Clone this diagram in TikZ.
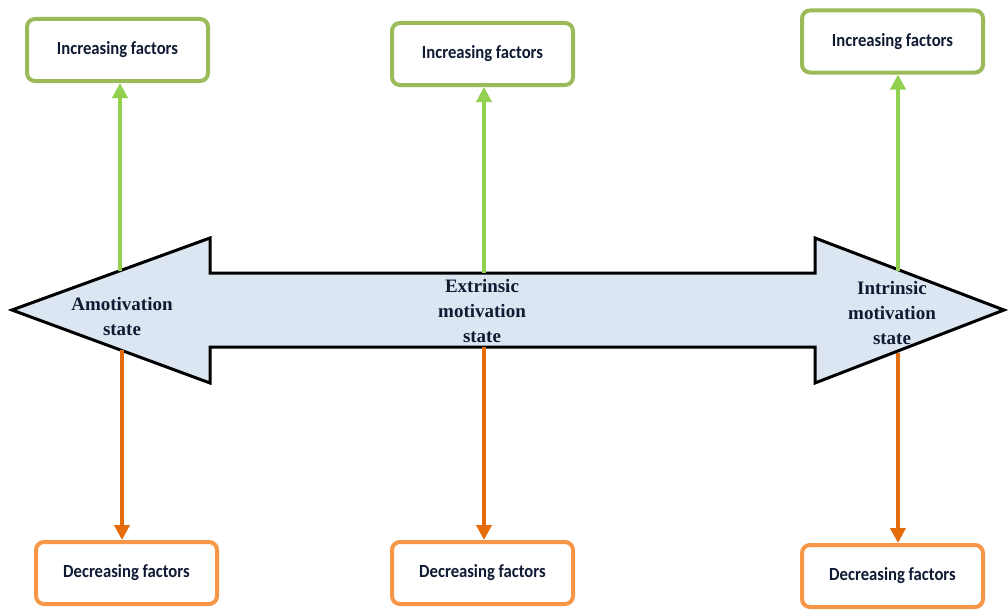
\documentclass[tikz,border=0pt]{standalone}
\usepackage{fontspec}
\setmainfont{Liberation Serif}
\newfontfamily\boxfont[FakeStretch=0.9]{Carlito}
\usetikzlibrary{arrows.meta}
\definecolor{boxgreen}{HTML}{9BBB59}
\definecolor{boxorange}{HTML}{F79646}
\definecolor{upgreen}{HTML}{92D050}
\definecolor{downorange}{HTML}{E46C0A}
\definecolor{shaftfill}{HTML}{DCE6F2}
\definecolor{labeltext}{HTML}{0F1A33}
\tikzset{
  factorbox/.style={draw, line width=4pt, rounded corners=8pt, fill=white,
    minimum width=181pt, minimum height=62pt, inner sep=0pt,
    font=\boxfont\bfseries\fontsize{18.5}{21}\selectfont, text=labeltext},
  incbox/.style={factorbox, draw=boxgreen},
  decbox/.style={factorbox, draw=boxorange},
  uparrow/.style={draw=upgreen, line width=4pt,
    -{Triangle[length=15pt,width=15pt]}},
  downarrow/.style={draw=downorange, line width=4pt,
    -{Triangle[length=15pt,width=15pt]}},
  statelabel/.style={align=center, text=labeltext,
    font=\bfseries\fontsize{19}{25}\selectfont},
  bigarrow/.style={draw=black, line width=3pt, fill=shaftfill, line join=miter}
}
\begin{document}
\begin{tikzpicture}[x=1pt,y=-1pt]
\useasboundingbox (0,0) rectangle (1008,610);

% double-headed arrow of motivation states
\draw[bigarrow] (12,310) -- (210,238) -- (210,273) -- (815,273) -- (815,238)
  -- (1004,310) -- (815,383) -- (815,347) -- (210,347) -- (210,383) -- cycle;

% points where the factor arrows leave the outline
\coordinate (upA) at (120,271);
\coordinate (downA) at (122,350);
\coordinate (upE) at (484,273);
\coordinate (downE) at (484,347);
\coordinate (upI) at (898,271);
\coordinate (downI) at (898,353);

% state labels
\node[statelabel] (amot) at (122,316) {Amotivation\\state};
\node[statelabel] (extr) at (482,311) {Extrinsic\\motivation\\state};
\node[statelabel] (intr) at (892,313) {Intrinsic\\motivation\\state};

% factor boxes
\node[incbox] (incA) at (117.5,50) {\raisebox{3pt}{Increasing factors}};
\node[incbox] (incE) at (482.5,54) {\raisebox{3pt}{Increasing factors}};
\node[incbox] (incI) at (892.5,41.5) {\raisebox{3pt}{Increasing factors}};
\node[decbox] (decA) at (126.5,573) {\raisebox{3pt}{Decreasing factors}};
\node[decbox] (decE) at (482.5,573) {\raisebox{3pt}{Decreasing factors}};
\node[decbox] (decI) at (892.5,576) {\raisebox{3pt}{Decreasing factors}};

% factor arrows
\draw[uparrow] (upA) -- (upA |- incA.south);
\draw[uparrow] (upE) -- (upE |- incE.south);
\draw[uparrow] (upI) -- (upI |- incI.south);
\draw[downarrow] (downA) -- (downA |- decA.north);
\draw[downarrow] (downE) -- (downE |- decE.north);
\draw[downarrow] (downI) -- (downI |- decI.north);
\end{tikzpicture}
\end{document}
